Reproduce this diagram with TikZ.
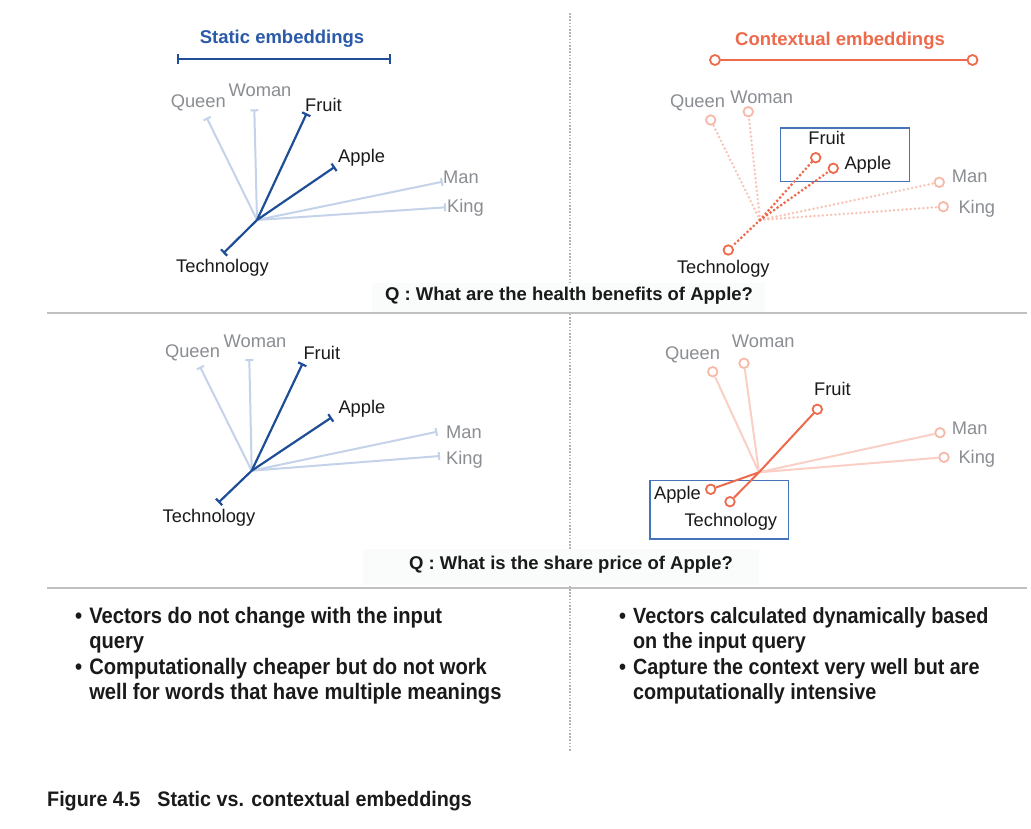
\documentclass[tikz,border=0pt]{standalone}
\usepackage{fontspec}
\setmainfont{Liberation Sans}
\newfontfamily\condfont[FakeStretch=0.9]{Liberation Sans}
\newfontfamily\capfont[FakeStretch=0.94]{Liberation Sans}
\usetikzlibrary{arrows.meta}
\definecolor{dblue}{HTML}{1F4E96}
\definecolor{lblue}{HTML}{C4D3E9}
\definecolor{hblue}{HTML}{2A5AA8}
\definecolor{orng}{HTML}{EE6A4C}
\definecolor{lorng}{HTML}{FAD0C6}
\definecolor{lorngd}{HTML}{F8C3B6}
\definecolor{lorngc}{HTML}{F6B9AA}
\definecolor{lbltxt}{HTML}{8A8D92}
\definecolor{boxblue}{HTML}{4773BB}
\definecolor{divgray}{HTML}{C0C0C0}
\definecolor{vgray}{HTML}{B4B4B4}
\definecolor{qfill}{HTML}{FAFCFC}
\definecolor{txtblack}{HTML}{1A1A1A}
\begin{document}
\begin{tikzpicture}[x=1pt,y=-1pt,
  lbl/.style={font=\fontsize{18.3}{22}\selectfont, inner sep=0pt},
  glbl/.style={lbl,text=lbltxt},
  klbl/.style={lbl,text=txtblack},
  head/.style={font=\fontsize{18.5}{22}\selectfont\bfseries, inner sep=0pt},
  qtext/.style={font=\fontsize{18.5}{22}\selectfont\bfseries, text=txtblack, inner sep=0pt},
  qbox/.style={fill=qfill, draw=none, inner sep=0pt},
  lightvec/.style={draw=lblue,line width=2pt,-{Bar[width=8pt]}},
  darkvec/.style={draw=dblue,line width=2.2pt,-{Bar[width=9pt]}},
  endc/.style={circle,draw=orng,line width=1.8pt,fill=white,minimum size=9.5pt,inner sep=0pt},
  lendc/.style={endc,draw=lorngc},
  odark/.style={draw=orng,line width=2pt},
  olight/.style={draw=lorng,line width=2pt},
  ddots/.style={draw=orng,line width=3.1pt,line cap=round,dash pattern=on 0pt off 4.3pt},
  ldots/.style={draw=lorngd,line width=2.7pt,line cap=round,dash pattern=on 0pt off 4.2pt},
  selbox/.style={draw=boxblue,line width=1.3pt,inner sep=0pt,anchor=north west},
  divider/.style={draw=divgray,line width=2pt},
  vdiv/.style={draw=vgray,line width=1.6pt,dash pattern=on 1.6pt off 1.6pt},
  listtext/.style={font=\condfont\bfseries\fontsize{22.4}{25.5}\selectfont, text=txtblack, inner sep=0pt, anchor=base west},
  captext/.style={font=\capfont\bfseries\fontsize{21}{25}\selectfont, text=txtblack, inner sep=0pt, anchor=base west}
]
\useasboundingbox (0,0) rectangle (1031,828);
\fill[white] (0,0) rectangle (1031,828);

% ---------- dividers ----------
\coordinate (vt) at (570,13);
\coordinate (vb) at (570,751);
\draw[vdiv] (vt) -- (vb);
\coordinate (h1a) at (47,313);
\coordinate (h1b) at (1027,313);
\coordinate (h2a) at (47,588);
\coordinate (h2b) at (1027,588);
\draw[divider] (h1a) -- (h1b);
\draw[divider] (h2a) -- (h2b);

% ---------- headers ----------
\node[head, text=hblue] (hstat) at (282,39) {Static embeddings};
\coordinate (hs1) at (177,59);
\coordinate (hs2) at (391,59);
\draw[dblue, line width=2pt, {Bar[width=10pt]}-{Bar[width=10pt]}] (hs1) -- (hs2);

\node[head, text=orng] (hctx) at (840,40.5) {Contextual embeddings};
\node[endc, minimum size=10pt] (hc1) at (715,60) {};
\node[endc, minimum size=10pt] (hc2) at (972.5,60) {};
\draw[odark] (hc1) -- (hc2);

% ---------- top-left: static ----------
\coordinate (O1) at (257,220);
\coordinate (e1q) at (206.7,117.7);
\coordinate (e1w) at (254.3,109.3);
\coordinate (e1m) at (442.7,181.7);
\coordinate (e1k) at (446,207.3);
\coordinate (e1f) at (306.7,113.3);
\coordinate (e1a) at (335,166.7);
\coordinate (e1t) at (223.3,253.3);
\draw[lightvec] (O1) -- (e1q);
\draw[lightvec] (O1) -- (e1w);
\draw[lightvec] (O1) -- (e1m);
\draw[lightvec] (O1) -- (e1k);
\draw[darkvec] (O1) -- (e1f);
\draw[darkvec] (O1) -- (e1a);
\draw[darkvec] (O1) -- (e1t);
\node[glbl] (l1q) at (198.3,103) {Queen};
\node[glbl] (l1w) at (260,90) {Woman};
\node[klbl, anchor=west] (l1f) at (305,105) {Fruit};
\node[klbl, anchor=west] (l1a) at (338,158) {Apple};
\node[glbl, anchor=west] (l1m) at (443,177) {Man};
\node[glbl, anchor=west] (l1k) at (447,208) {King};
\node[klbl] (l1t) at (222.5,268) {Technology};

% ---------- top-right: contextual (dotted) ----------
\node[selbox, minimum width=128.7pt, minimum height=53.4pt] (box1) at (780,127.3) {};
\coordinate (O2) at (760,220);
\node[lendc] (c2q) at (710.7,120) {};
\node[lendc] (c2w) at (748.3,111.7) {};
\node[lendc] (c2m) at (939.3,182.3) {};
\node[lendc] (c2k) at (943.3,206.7) {};
\node[endc] (c2f) at (815.7,157.7) {};
\node[endc] (c2a) at (833.3,168.3) {};
\node[endc] (c2t) at (728.3,250) {};
\draw[ldots] (O2) -- (c2q);
\draw[ldots] (O2) -- (c2w);
\draw[ldots] (O2) -- (c2m);
\draw[ldots] (O2) -- (c2k);
\draw[ddots] (O2) -- (c2f);
\draw[ddots] (O2) -- (c2a);
\draw[ddots] (O2) -- (c2t);
\node[glbl] (l2q) at (697.5,103.3) {Queen};
\node[glbl] (l2w) at (761.7,97.7) {Woman};
\node[klbl] (l2f) at (826.7,138.3) {Fruit};
\node[klbl, anchor=west] (l2a) at (844.3,164.3) {Apple};
\node[glbl, anchor=west] (l2m) at (951.7,176) {Man};
\node[glbl, anchor=west] (l2k) at (958.3,208.3) {King};
\node[klbl] (l2t) at (723.3,268.3) {Technology};

% ---------- question 1 ----------
\node[qbox, minimum width=393pt, minimum height=29pt] (q1box) at (568.5,297.5) {};
\node[qtext] (q1) at (569,295.5) {Q : What are the health benefits of Apple?};

% ---------- middle-left: static ----------
\coordinate (O3) at (251.7,470.7);
\coordinate (e3q) at (200,366.7);
\coordinate (e3w) at (249.3,359);
\coordinate (e3m) at (437.3,431.7);
\coordinate (e3k) at (440,456);
\coordinate (e3f) at (302.7,363.3);
\coordinate (e3a) at (331.7,417.3);
\coordinate (e3t) at (218.3,502.7);
\draw[lightvec] (O3) -- (e3q);
\draw[lightvec] (O3) -- (e3w);
\draw[lightvec] (O3) -- (e3m);
\draw[lightvec] (O3) -- (e3k);
\draw[darkvec] (O3) -- (e3f);
\draw[darkvec] (O3) -- (e3a);
\draw[darkvec] (O3) -- (e3t);
\node[glbl] (l3q) at (192.5,353.3) {Queen};
\node[glbl] (l3w) at (255,341.7) {Woman};
\node[klbl, anchor=west] (l3f) at (303.3,353.3) {Fruit};
\node[klbl, anchor=west] (l3a) at (338.3,408.3) {Apple};
\node[glbl, anchor=west] (l3m) at (446,432.7) {Man};
\node[glbl, anchor=west] (l3k) at (446,459.3) {King};
\node[klbl] (l3t) at (209,517.3) {Technology};

% ---------- middle-right: contextual (solid) ----------
\node[selbox, minimum width=138.4pt, minimum height=58.3pt] (box2) at (649.3,480) {};
\coordinate (O4) at (759,472.3);
\node[lendc] (c4q) at (712.7,371.7) {};
\node[lendc] (c4w) at (744,363.3) {};
\node[lendc] (c4m) at (940,432.7) {};
\node[lendc] (c4k) at (944,457.3) {};
\node[endc] (c4f) at (817.3,409.3) {};
\node[endc] (c4a) at (710.7,489.3) {};
\node[endc] (c4t) at (730,501.7) {};
\draw[olight] (O4) -- (c4q);
\draw[olight] (O4) -- (c4w);
\draw[olight] (O4) -- (c4m);
\draw[olight] (O4) -- (c4k);
\draw[odark] (O4) -- (c4f);
\draw[odark] (O4) -- (c4a);
\draw[odark] (O4) -- (c4t);
\node[glbl] (l4q) at (692.5,355) {Queen};
\node[glbl] (l4w) at (763.3,341.7) {Woman};
\node[klbl] (l4f) at (832.5,389.3) {Fruit};
\node[glbl, anchor=west] (l4m) at (951.7,428.3) {Man};
\node[glbl, anchor=west] (l4k) at (958.3,458.3) {King};
\node[klbl] (l4a) at (677.5,494.3) {Apple};
\node[klbl] (l4t) at (730.8,521.7) {Technology};

% ---------- question 2 ----------
\node[qbox, minimum width=396pt, minimum height=36pt] (q2box) at (561,566.5) {};
\node[qtext] (q2) at (571,565) {Q : What is the share price of Apple?};

% ---------- bullet lists ----------
\node[listtext] (listL) at (75,623) {\begin{tabular}[t]{@{}l@{\hspace{7pt}}l@{}}
\textbullet & Vectors do not change with the input\\
 & query\\
\textbullet & Computationally cheaper but do not work\\
 & well for words that have multiple meanings
\end{tabular}};
\node[listtext, font=\condfont\bfseries\fontsize{22}{25.5}\selectfont] (listR) at (619,623) {\begin{tabular}[t]{@{}l@{\hspace{7pt}}l@{}}
\textbullet & Vectors calculated dynamically based\\
 & on the input query\\
\textbullet & Capture the context very well but are\\
 & computationally intensive
\end{tabular}};

% ---------- caption ----------
\node[captext] (cap) at (47,806) {Figure 4.5\hspace{17pt}Static vs. contextual embeddings};
\end{tikzpicture}
\end{document}
